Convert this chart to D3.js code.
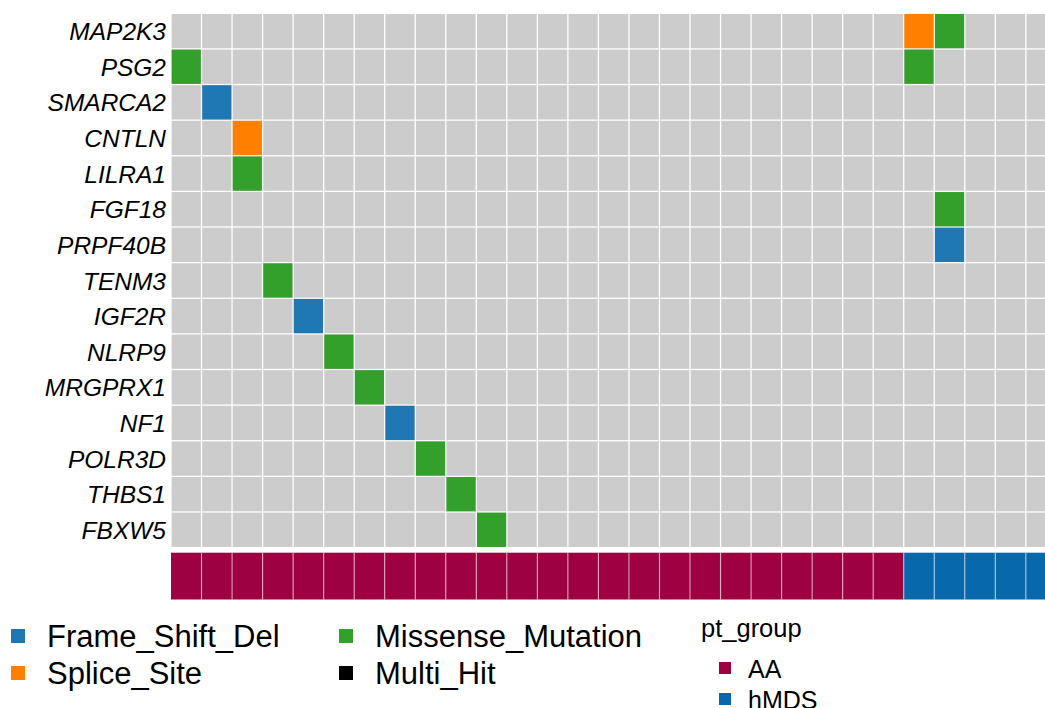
<!DOCTYPE html>
<html>
<head>
<meta charset="utf-8">
<script src="https://cdn.jsdelivr.net/npm/d3@7"></script>
<style>
  html, body { margin: 0; padding: 0; background: #fff; }
  svg { display: block; }
  text { font-family: "Liberation Sans", Arial, Helvetica, sans-serif; }
</style>
</head>
<body>
<svg id="chart" width="1045" height="708"></svg>
<script>
// ---- data ----
const genes = ["MAP2K3","PSG2","SMARCA2","CNTLN","LILRA1","FGF18","PRPF40B","TENM3","IGF2R","NLRP9","MRGPRX1","NF1","POLR3D","THBS1","FBXW5"];
const samples = d3.range(1, 30).map(i => "S" + i);
const sampleGroups = ["AA","AA","AA","AA","AA","AA","AA","AA","AA","AA","AA","AA","AA","AA","AA","AA","AA","AA","AA","AA","AA","AA","AA","AA","hMDS","hMDS","hMDS","hMDS","hMDS"];
const mutGene   = ["MAP2K3","MAP2K3","PSG2","PSG2","SMARCA2","CNTLN","LILRA1","FGF18","PRPF40B","TENM3","IGF2R","NLRP9","MRGPRX1","NF1","POLR3D","THBS1","FBXW5"];
const mutSample = ["S25","S26","S1","S25","S2","S3","S3","S26","S26","S4","S5","S6","S7","S8","S9","S10","S11"];
const mutType   = ["Splice_Site","Missense_Mutation","Missense_Mutation","Missense_Mutation","Frame_Shift_Del","Splice_Site","Missense_Mutation","Missense_Mutation","Frame_Shift_Del","Missense_Mutation","Frame_Shift_Del","Missense_Mutation","Missense_Mutation","Frame_Shift_Del","Missense_Mutation","Missense_Mutation","Missense_Mutation"];
const mutTypes  = ["Frame_Shift_Del","Splice_Site","Missense_Mutation","Multi_Hit"];
const mutColors = ["#1f78b4","#ff7f00","#33a02c","#000000"];
const groupNames  = ["AA","hMDS"];
const groupColors = ["#9e0142","#0868ac"];

// ---- scales ----
const svg = d3.select("#chart");
const colW = 30.53;
const x = d3.scaleBand().domain(samples).range([171, 171 + samples.length * colW]);
const y = d3.scaleBand().domain(genes).range([13.3, 547.6]);
const mutColor = d3.scaleOrdinal().domain(mutTypes).range(mutColors);
const grpColor = d3.scaleOrdinal().domain(groupNames).range(groupColors);
const gap = 0.65;

// background cells
const cells = [];
genes.forEach(g => samples.forEach(s => cells.push({g, s})));
svg.append("g").selectAll("rect").data(cells).join("rect")
  .attr("x", d => x(d.s) + gap)
  .attr("y", d => y(d.g) + gap)
  .attr("width", x.bandwidth() - 2 * gap)
  .attr("height", y.bandwidth() - 2 * gap)
  .attr("fill", "#cccccc");

// mutations
const muts = mutGene.map((g, i) => ({g, s: mutSample[i], t: mutType[i]}));
svg.append("g").selectAll("rect").data(muts).join("rect")
  .attr("x", d => x(d.s) + gap)
  .attr("y", d => y(d.g) + gap)
  .attr("width", x.bandwidth() - 2 * gap)
  .attr("height", y.bandwidth() - 2 * gap)
  .attr("fill", d => mutColor(d.t));

// gene labels
svg.append("g").selectAll("text").data(genes).join("text")
  .attr("x", 166)
  .attr("y", d => y(d) + y.bandwidth() / 2)
  .attr("dy", "0.37em")
  .attr("text-anchor", "end")
  .attr("font-style", "italic")
  .attr("font-size", 24.5)
  .attr("fill", "#000")
  .text(d => d);

// annotation bar
const annTop = 552.7, annBottom = 599.5;
svg.append("g").selectAll("rect").data(samples).join("rect")
  .attr("x", d => x(d))
  .attr("y", annTop)
  .attr("width", x.bandwidth())
  .attr("height", annBottom - annTop)
  .attr("fill", (d, i) => grpColor(sampleGroups[i]));
svg.append("g").selectAll("line").data(samples.slice(1)).join("line")
  .attr("x1", d => x(d)).attr("x2", d => x(d))
  .attr("y1", annTop).attr("y2", annBottom)
  .attr("stroke", "#ffffff").attr("stroke-opacity", 0.55).attr("stroke-width", 1.2);

// mutation legend
const legX = [11, 339];
const legTextX = [47, 375];
const legY = [636, 673];
const lg = svg.append("g");
mutTypes.forEach((t, i) => {
  const c = Math.floor(i / 2), r = i % 2;
  lg.append("rect").attr("x", legX[c]).attr("y", legY[r] - 7).attr("width", 14).attr("height", 14).attr("fill", mutColor(t));
  lg.append("text").attr("x", legTextX[c]).attr("y", legY[r]).attr("dy", "0.36em")
    .attr("font-size", 31).attr("fill", "#000").text(t);
});

// group legend
const gl = svg.append("g");
gl.append("text").attr("x", 701).attr("y", 637).attr("font-size", 25.5).attr("fill", "#000").text("pt_group");
groupNames.forEach((gname, i) => {
  const cy = 668 + i * 31;
  gl.append("rect").attr("x", 719).attr("y", cy - 6).attr("width", 12).attr("height", 12).attr("fill", grpColor(gname));
  gl.append("text").attr("x", 748).attr("y", cy).attr("dy", "0.38em").attr("font-size", 25).attr("fill", "#000").text(gname);
});
</script>
</body>
</html>
